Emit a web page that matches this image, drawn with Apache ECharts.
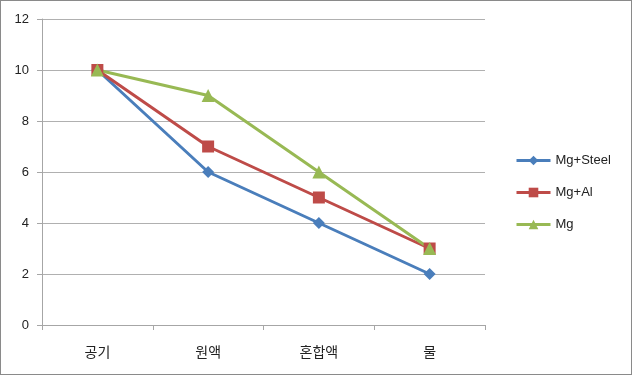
<!DOCTYPE html>
<html>
<head>
<meta charset="utf-8">
<script src="https://cdn.jsdelivr.net/npm/echarts@6/dist/echarts.min.js"></script>
<style>
html, body { margin: 0; padding: 0; background: #fff; }
#chart { width: 632px; height: 375px; box-sizing: border-box; border: 1px solid #8a8a8a; }
</style>
</head>
<body>
<div id="chart"></div>
<script>
// 데이터
var categories = ['공기', '원액', '혼합액', '물'];
var mgSteel = [10, 6, 4, 2];
var mgAl = [10, 7, 5, 3];
var mg = [10, 9, 6, 3];
var yTicks = [0, 2, 4, 6, 8, 10, 12];

var fontFam = '"Liberation Sans", "Noto Sans CJK KR", sans-serif';
var chart = echarts.init(document.getElementById('chart'));

function lineSeries(name, data, color, symbol, size) {
    return {
        name: name,
        type: 'line',
        data: data,
        symbol: symbol,
        symbolSize: size,
        lineStyle: { color: color, width: 3 },
        itemStyle: { color: color },
        emphasis: { disabled: true },
        animation: false
    };
}

var option = {
    animation: false,
    grid: { left: 41, right: 146, top: 18, bottom: 49, containLabel: false },
    legend: {
        orient: 'vertical',
        left: 509,
        top: 148,
        itemWidth: 34,
        itemHeight: 12,
        itemGap: 19,
        lineStyle: { width: 3 },
        textStyle: { fontSize: 13, color: '#222', fontFamily: fontFam },
        data: ['Mg+Steel', 'Mg+Al', 'Mg']
    },
    xAxis: {
        type: 'category',
        data: categories,
        boundaryGap: true,
        axisLine: { lineStyle: { color: '#a6a6a6', width: 1 } },
        axisTick: { show: true, length: 5, lineStyle: { color: '#a6a6a6' } },
        axisLabel: { margin: 21, fontSize: 14, color: '#222', fontFamily: fontFam }
    },
    yAxis: {
        type: 'value',
        min: yTicks[0],
        max: yTicks[yTicks.length - 1],
        interval: 2,
        axisLine: { show: true, lineStyle: { color: '#a6a6a6', width: 1 } },
        axisTick: { show: true, length: 5, lineStyle: { color: '#a6a6a6' } },
        axisLabel: { margin: 13, fontSize: 13, color: '#222', fontFamily: fontFam },
        splitLine: { show: true, lineStyle: { color: '#b0b0b0', width: 1 } }
    },
    series: [
        lineSeries('Mg+Steel', mgSteel, '#4a7ebb', 'diamond', 12),
        lineSeries('Mg+Al', mgAl, '#be4b48', 'rect', 12),
        lineSeries('Mg', mg, '#98b954', 'triangle', 13)
    ]
};
chart.setOption(option);
</script>
</body>
</html>
